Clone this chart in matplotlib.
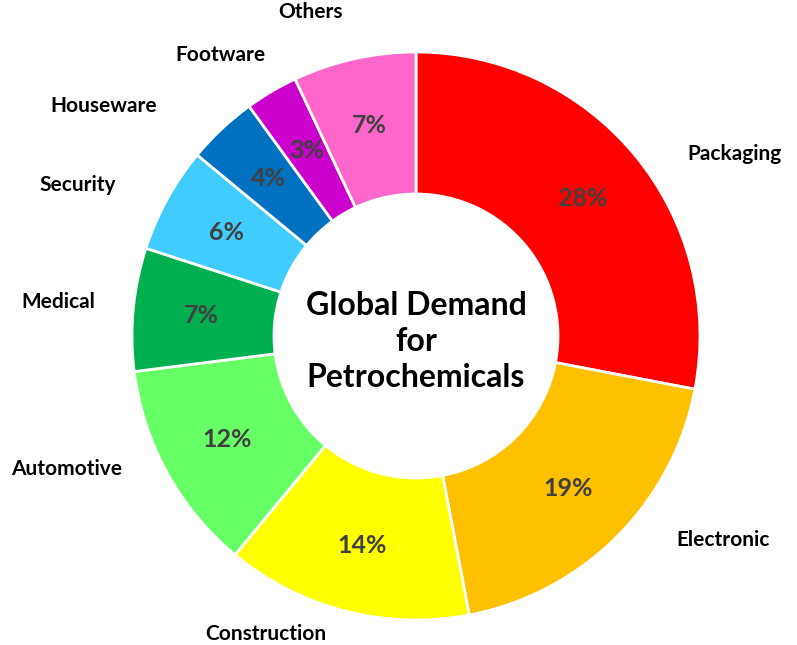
import matplotlib
matplotlib.use("Agg")
import matplotlib.pyplot as plt

categories = ["Packaging", "Electronic", "Construction", "Automotive", "Medical",
              "Security", "Houseware", "Footware", "Others"]
shares = [28, 19, 14, 12, 7, 6, 4, 3, 7]
colors = ["#FF0000", "#FFC000", "#FFFF00", "#66FF66", "#00B050",
          "#40CCFF", "#0070C0", "#CC00CC", "#FF66CC"]

# where the category names sit (in radius units, centre of donut = 0,0)
label_pos = [(1.12, 0.64), (1.08, -0.72), (-0.53, -1.05), (-1.23, -0.47),
             (-1.26, 0.12), (-1.19, 0.53), (-1.10, 0.81), (-0.69, 0.99),
             (-0.37, 1.14)]

plt.rcParams['font.family'] = ['Lato', 'DejaVu Sans']

fig = plt.figure(figsize=(7.97, 6.45), dpi=100)
ax = fig.add_axes([0, 0, 1, 1])

wedges, texts, autotexts = ax.pie(
    shares, colors=colors, startangle=90, counterclock=False,
    autopct='%d%%', pctdistance=0.76,
    wedgeprops=dict(width=0.5, edgecolor='white', linewidth=2),
    textprops=dict(fontsize=18, fontweight='bold', color='#404040'))

for (x, y), name in zip(label_pos, categories):
    ax.text(x, y, name, ha='center', va='center', fontsize=15,
            fontweight='bold', color='black')

ax.text(0, -0.02, "Global Demand\nfor\nPetrochemicals", ha='center', va='center',
        fontsize=23, fontweight='bold', linespacing=1.3)

R = 284.0
ax.set_xlim(-416 / R, (797 - 416) / R)
ax.set_ylim(-309 / R, 336 / R)
ax.set_aspect('equal')
ax.axis('off')

fig.savefig("out.png", dpi=100)
